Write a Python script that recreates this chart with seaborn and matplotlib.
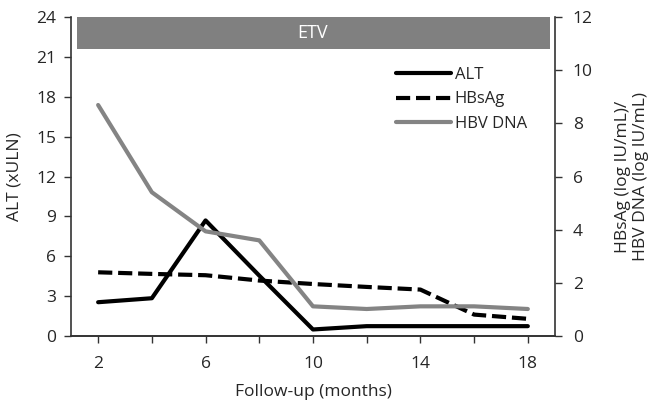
import pandas as pd
import matplotlib.pyplot as plt
import seaborn as sns
from matplotlib.patches import Rectangle
from matplotlib.lines import Line2D

# follow-up months and series values
months = [2, 4, 6, 8, 10, 12, 14, 16, 18]
alt = [2.55, 2.85, 8.7, 4.55, 0.5, 0.75, 0.75, 0.75, 0.75]          # left axis, xULN
hbsag = [2.4, 2.34, 2.29, 2.09, 1.96, 1.85, 1.75, 0.81, 0.65]      # right axis, log IU/mL
hbv_dna = [8.69, 5.41, 3.94, 3.6, 1.12, 1.02, 1.12, 1.12, 1.02]    # right axis, log IU/mL

left_ticks = [0, 3, 6, 9, 12, 15, 18, 21, 24]
right_ticks = [0, 2, 4, 6, 8, 10, 12]
x_ticks = [2, 4, 6, 8, 10, 12, 14, 16, 18]
x_labels = ["2", "", "6", "", "10", "", "14", "", "18"]

sns.set_style("ticks")
plt.rcParams['font.family'] = ['Open Sans', 'DejaVu Sans']

df = pd.DataFrame({'month': months, 'ALT': alt, 'HBsAg': hbsag, 'HBV DNA': hbv_dna})

GRAY = '#848484'
LW = 3.0
DASH = (0, (3.4, 1.4))

fig, ax = plt.subplots(figsize=(6.48, 4.04), dpi=100)
fig.subplots_adjust(left=0.11, right=0.856, bottom=0.168, top=0.958)
ax2 = ax.twinx()

sns.lineplot(data=df, x='month', y='ALT', ax=ax, color='black', lw=LW)
sns.lineplot(data=df, x='month', y='HBsAg', ax=ax2, color='black', lw=LW, linestyle=DASH)
sns.lineplot(data=df, x='month', y='HBV DNA', ax=ax2, color=GRAY, lw=LW)

ax.set_xlim(1, 19)
ax.set_ylim(0, 24)
ax2.set_ylim(0, 12)
ax.set_xticks(x_ticks)
ax.set_xticklabels(x_labels)
ax.set_yticks(left_ticks)
ax2.set_yticks(right_ticks)

ax.set_xlabel('Follow-up (months)', fontsize=12.5, labelpad=9)
ax.set_ylabel('ALT (xULN)', fontsize=12.5, labelpad=10)
ax2.set_ylabel('HBsAg (log IU/mL)/\nHBV DNA (log IU/mL)', fontsize=12.5, labelpad=16)

for a in (ax, ax2):
    a.spines['top'].set_visible(False)
    a.tick_params(labelsize=12.5, length=5, width=1, color='#333333')
    for s in a.spines.values():
        s.set_linewidth(1.2)
        s.set_color('#333333')
ax.tick_params(axis='x', pad=9)
ax.tick_params(axis='y', pad=6)
ax2.tick_params(axis='y', pad=8)
ax2.spines['left'].set_visible(False)
ax.spines['right'].set_visible(False)

# ETV treatment bar along the top
ax.add_patch(Rectangle((0.012, 21.6), 0.978, 2.4, transform=ax.get_yaxis_transform(),
                       facecolor='#808080', edgecolor='none', zorder=1, clip_on=False))
ax.text(0.5, 22.8, 'ETV', transform=ax.get_yaxis_transform(), color='white',
        fontsize=13, ha='center', va='center')

handles = [Line2D([], [], color='black', lw=LW),
           Line2D([], [], color='black', lw=LW, linestyle=DASH),
           Line2D([], [], color=GRAY, lw=LW)]
ax2.legend(handles, ['ALT', 'HBsAg', 'HBV DNA'], loc='upper left',
           bbox_to_anchor=(0.64, 0.89), frameon=False, fontsize=12,
           handlelength=3.3, handletextpad=0.25, labelspacing=0.5)

plt.savefig('out.png', dpi=100)
